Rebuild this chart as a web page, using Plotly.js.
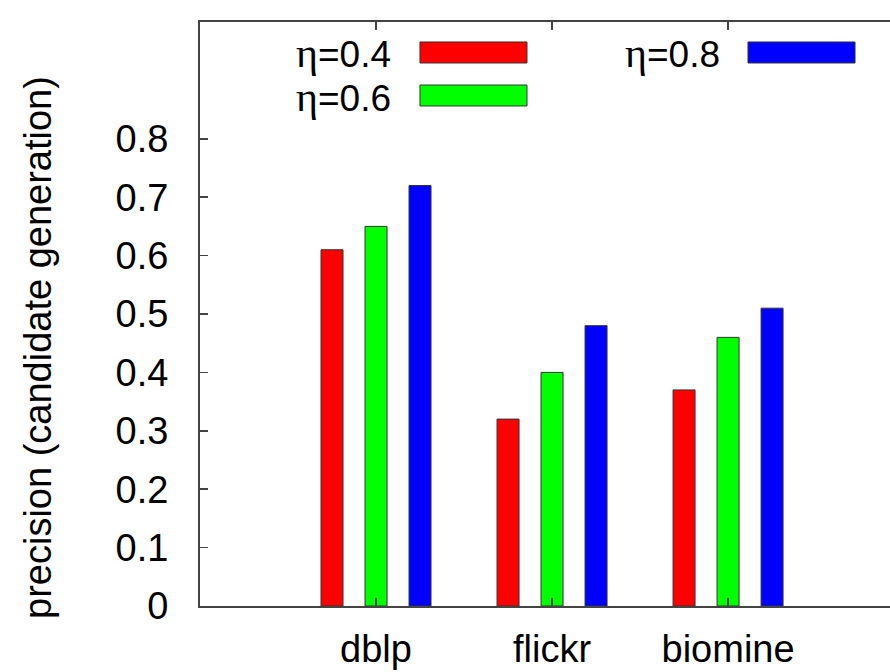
<!DOCTYPE html>
<html>
<head>
<meta charset="utf-8">
<script src="https://cdn.plot.ly/plotly-3.0.1.min.js"></script>
<style>html,body{margin:0;padding:0;background:#fff;}</style>
</head>
<body>
<div id="chart" style="width:890px;height:672px;"></div>
<script>
const categories = ["dblp", "flickr", "biomine"];
const seriesNames = ["η=0.4", "η=0.6", "η=0.8"];
const eta04 = [0.61, 0.32, 0.37];
const eta06 = [0.65, 0.40, 0.46];
const eta08 = [0.72, 0.48, 0.51];
const yTickVals = [0, 0.1, 0.2, 0.3, 0.4, 0.5, 0.6, 0.7, 0.8];
const yTickText = ["0", "0.1", "0.2", "0.3", "0.4", "0.5", "0.6", "0.7", "0.8"];
const colors = ["#ff0000", "#00ff00", "#0000ff"];

const seriesValues = [eta04, eta06, eta08];
const traces = seriesValues.map((vals, i) => ({
  type: "bar",
  name: seriesNames[i],
  x: categories,
  y: vals,
  marker: {color: colors[i], line: {color: "#333333", width: 1}},
  hoverinfo: "none"
}));

const FONT = "Liberation Sans, Arial, Helvetica, sans-serif";

// legend drawn gnuplot-style: label then swatch
const legendPos = [
  {tx: 0.2797, ty: 0.9465, x0: 0.3188, x1: 0.4739, y0: 0.9298, y1: 0.9658},
  {tx: 0.2797, ty: 0.8710, x0: 0.3188, x1: 0.4739, y0: 0.8562, y1: 0.8921},
  {tx: 0.7565, ty: 0.9465, x0: 0.7942, x1: 0.9493, y0: 0.9298, y1: 0.9658}
];
const annotations = seriesNames.map((n, i) => ({
  xref: "paper", yref: "paper",
  x: legendPos[i].tx, y: legendPos[i].ty,
  xanchor: "right", yanchor: "middle",
  showarrow: false,
  text: "<span style='font-family:Liberation Serif;font-size:42px'>" + n.charAt(0) + "</span>" + n.slice(1),
  font: {family: FONT, size: 37, color: "#000"}
}));
annotations.push({
  xref: "paper", yref: "paper",
  x: -0.2348, y: 0.4435,
  xanchor: "center", yanchor: "middle",
  showarrow: false, textangle: -90,
  text: "precision (candidate generation)",
  font: {family: FONT, size: 38, color: "#000"}
});
const shapes = seriesNames.map((n, i) => ({
  type: "rect", xref: "paper", yref: "paper",
  x0: legendPos[i].x0, x1: legendPos[i].x1,
  y0: legendPos[i].y0, y1: legendPos[i].y1,
  fillcolor: colors[i],
  line: {color: "#333333", width: 1}
}));

const layout = {
  width: 890, height: 672,
  margin: {l: 200, r: 0, t: 22, b: 66, pad: 0},
  paper_bgcolor: "#fff", plot_bgcolor: "#fff",
  showlegend: false,
  barmode: "group",
  bargap: 0.25,
  bargroupgap: 0.5,
  font: {family: FONT, size: 38, color: "#000"},
  xaxis: {
    type: "category",
    range: [-1, 2.92],
    showgrid: false, zeroline: false,
    showline: true, linecolor: "#444", linewidth: 2,
    mirror: "ticks",
    ticks: "inside", ticklen: 8, tickcolor: "#444", tickwidth: 1.5,
    tickfont: {family: FONT, size: 38, color: "#000"},
    ticklabelstandoff: 8
  },
  yaxis: {
    range: [0, 1.0],
    tickvals: yTickVals, ticktext: yTickText,
    showgrid: false, zeroline: false,
    showline: true, linecolor: "#444", linewidth: 2,
    mirror: false,
    ticks: "inside", ticklen: 8, tickcolor: "#444", tickwidth: 1.5,
    tickfont: {family: FONT, size: 38, color: "#000"},
    ticklabelstandoff: 22
  },
  annotations: annotations,
  shapes: shapes
};

Plotly.newPlot("chart", traces, layout, {displayModeBar: false, staticPlot: true});
</script>
</body>
</html>
